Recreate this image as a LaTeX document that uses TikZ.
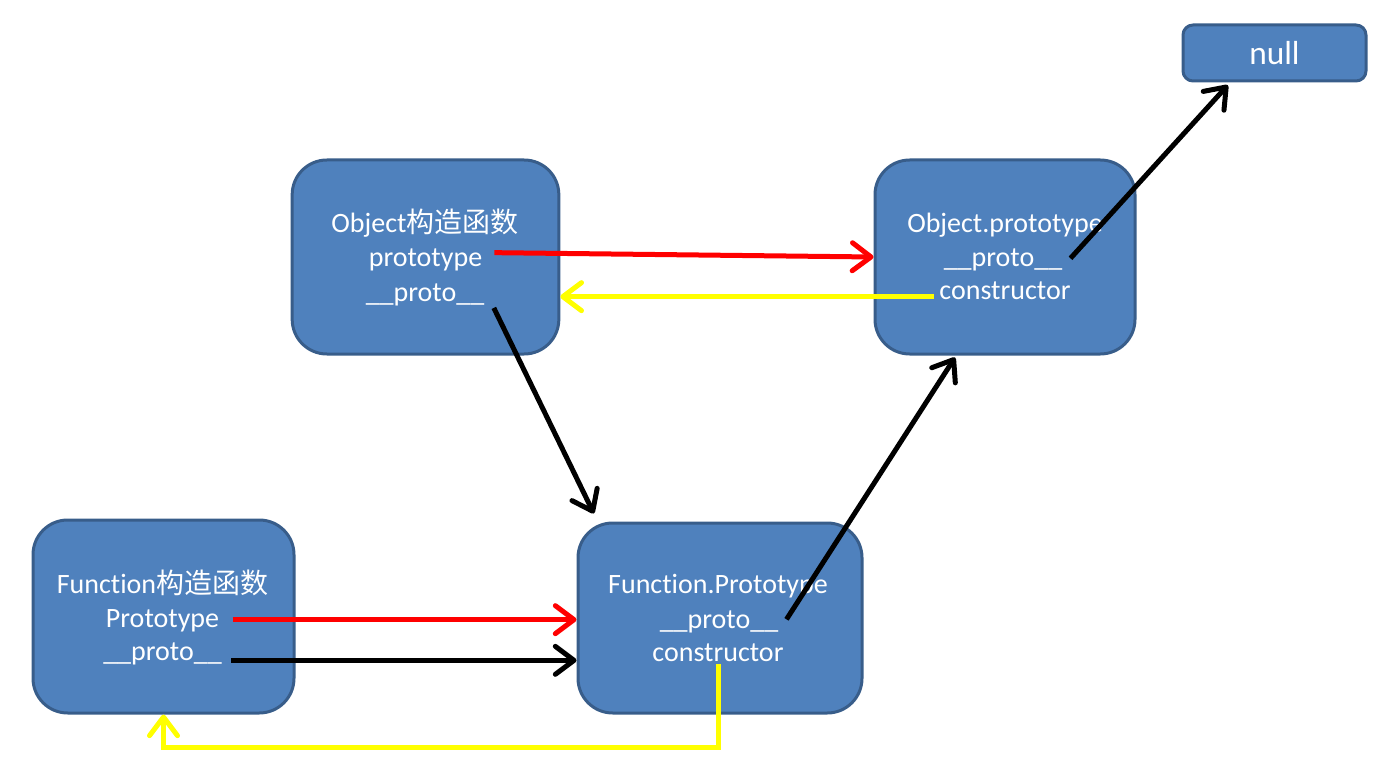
\documentclass[tikz,border=0pt]{standalone}
\usepackage{fontspec}
\setmainfont{Carlito}[Ligatures=NoCommon]
\newfontfamily\cjk{Noto Sans CJK SC}
\usetikzlibrary{arrows.meta}
\definecolor{boxfill}{HTML}{4F81BD}
\definecolor{boxline}{HTML}{385D8A}
\definecolor{cred}{HTML}{FF0000}
\definecolor{cyellow}{HTML}{FFFF00}

\begin{document}
\begin{tikzpicture}[x=0.75pt,y=-0.75pt,
        obj/.style={draw=boxline,fill=boxfill,line width=2.25pt,rounded corners=26pt,inner sep=0pt},
        txt/.style={text=white,font=\fontsize{21}{25}\selectfont,inner sep=0pt,
            text height=0.7em,text depth=0.2em,anchor=base},
        link/.style={line width=3.75pt,-{Straight Barb[length=14pt,width=21pt,round]}},
    ]
    \useasboundingbox (0,0) rectangle (1381,784);

    % boxes
    \node[obj,rounded corners=7.5pt,minimum width=137.25pt,minimum height=42pt] (null) at (1274.5,53) {};
    \node[obj,minimum width=200pt,minimum height=145.5pt] (objc) at (425.5,257) {};
    \node[obj,minimum width=195pt,minimum height=145.5pt] (objp) at (1005,257) {};
    \node[obj,minimum width=195.75pt,minimum height=144.75pt] (func) at (163.5,616.5) {};
    \node[obj,minimum width=213pt,minimum height=142.5pt] (funp) at (720,618) {};

    % texts
    \node[txt,font=\fontsize{25}{30}\selectfont] (null-txt) at (1274.5,65) {null};

    \node[txt] (oc-name) at (425,233) {Object{\cjk 构造函数}};
    \node[txt] (oc-proto) at (425.5,267) {prototype};
    \node[txt] (oc-dunder) at (425,301) {\_\_proto\_\_};

    \node[txt] (op-name) at (1005,233) {Object.prototype};
    \node[txt] (op-dunder) at (1003,267) {\_\_proto\_\_};
    \node[txt] (op-ctor) at (1005,300) {constructor};

    \node[txt] (fc-name) at (162.5,593) {Function{\cjk 构造函数}};
    \node[txt] (fc-proto) at (162.5,627) {Prototype};
    \node[txt] (fc-dunder) at (162.5,660) {\_\_proto\_\_};

    \node[txt] (fp-name) at (718,593) {Function.Prototype};
    \node[txt] (fp-dunder) at (719,628) {\_\_proto\_\_};
    \node[txt] (fp-ctor) at (718,661) {constructor};

    % links
    \draw[link,cred] ([xshift=9pt,yshift=8.25pt]oc-proto.east) -- (objp.west);
    \draw[link,cyellow] ([xshift=-4pt]op-ctor.west) -- (op-ctor.west -| objc.east);
    \draw[link] ([xshift=7pt,yshift=-3pt]oc-dunder.south east) -- ([xshift=13pt,yshift=6pt]funp.north west);
    \draw[link] ([xshift=6pt,yshift=4pt]op-dunder.east) -- ([xshift=-35pt,yshift=-2pt]null.south);
    \draw[link] ([xshift=6pt,yshift=4pt]fp-dunder.east) -- ([xshift=-37.5pt,yshift=-1.5pt]objp.south);
    \draw[link,cred] ([xshift=10pt,yshift=3pt]fc-proto.east) -- ([yshift=3pt]fc-proto.east -| funp.west);
    \draw[link] ([xshift=7pt,yshift=-2.75pt]fc-dunder.east) -- ([yshift=-2.75pt]fc-dunder.east -| funp.west);
    \draw[link,cyellow] (fp-ctor.south) -- ++(0,84) -| (func.south);
\end{tikzpicture}
\end{document}
